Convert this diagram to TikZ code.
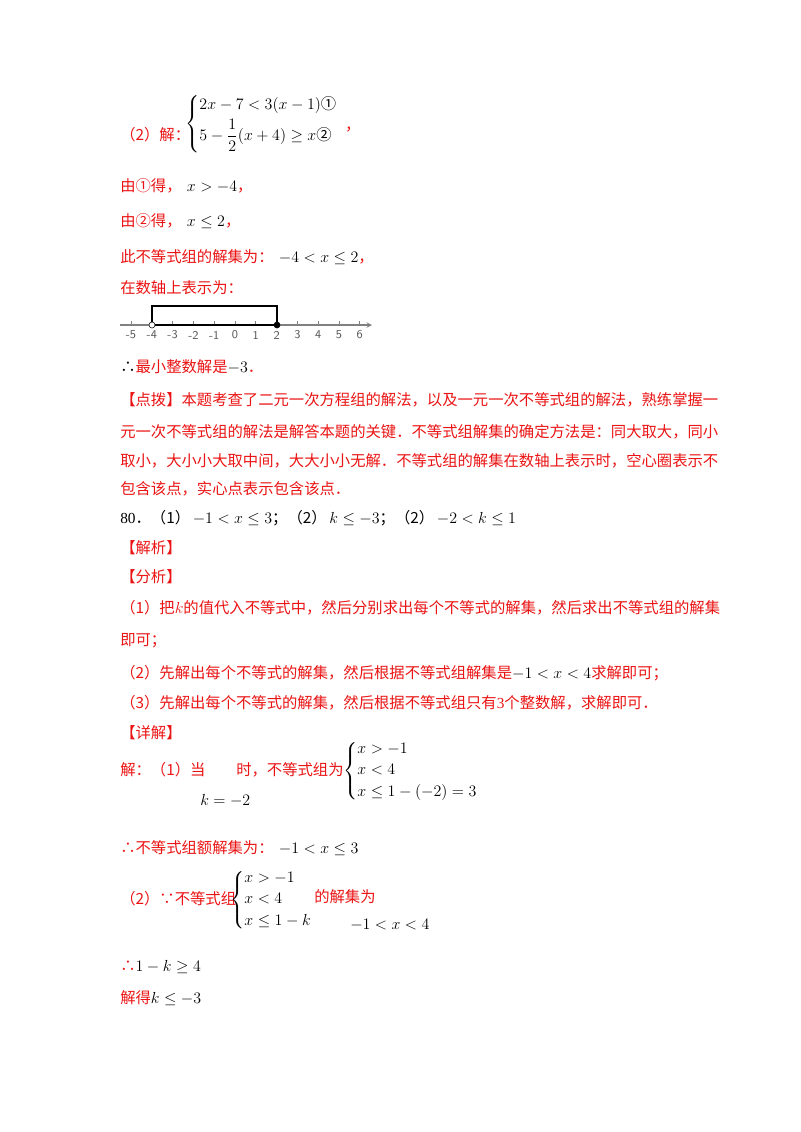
\documentclass[tikz,border=0pt]{standalone}
\usepackage{amsmath}
\usepackage{fontspec}
\setmainfont{Liberation Serif}
\newfontfamily\cjk{Noto Sans CJK SC}
\definecolor{myred}{RGB}{235,20,20}
\newcommand{\R}[1]{{\color{myred}\cjk #1}}
\begin{document}
\begin{tikzpicture}[x=0.75pt,y=-0.75pt,
  t/.style={anchor=west,inner sep=0pt,font=\fontsize{11.5}{14}\selectfont},
  tk/.style={draw=gray,line width=0.6pt}]
\fill[white] (0,0) rectangle (800,1132);
\useasboundingbox (0,0) rectangle (800,1132);
% (2) system
\node[t] (l1) at (120,135) {\R{（2）解：}};
\node[t] (s1) at (185,124) {$\left\{\begin{array}{@{}l@{}}2x-7<3(x-1)\text{\cjk ①}\\[3pt]5-\dfrac12(x+4)\ge x\text{\cjk ②}\end{array}\right.$};
\node[t] (c1) at ([xshift=5pt,yshift=-4pt]s1.east) {\R{，}};
\node[t] (l2) at (120,186) {\R{由①得，}\hspace{4pt}$x>-4$\R{，}};
\node[t] (l3) at (120,221) {\R{由②得，}\hspace{4pt}$x\le 2$\R{，}};
\node[t] (l4) at (120,257) {\R{此不等式组的解集为：}\hspace{4pt}$-4<x\le 2$\R{，}};
\node[t] (l5) at (120,288) {\R{在数轴上表示为：}};
% number line
\coordinate (a0) at (120,325);
\coordinate (a1) at (372,325);
\draw[gray,line width=0.8pt,-stealth] (a0) -- (a1);
\foreach \i [count=\n from 0] in {-5,...,6}{
  \coordinate (k\n) at ({131+20.8*(\i+5)},325);
  \draw[tk] (k\n) -- ++(0,-4);
  \node[font=\fontsize{9}{10}\selectfont\sffamily,gray!70!black] (lab\n) at ({131+20.8*(\i+5)},335) {\i};
}
\coordinate (p1) at (152,325);
\coordinate (p2) at (277,325);
\draw[line width=0.8pt] (p1) -- (152,306) -- (277,306) -- (p2);
\draw[line width=1pt] (p1) -- (p2);
\node[circle,draw,fill=white,inner sep=1.6pt] (oc) at (p1) {};
\node[circle,draw,fill=black,inner sep=1.6pt] (fc) at (p2) {};
\node[t] (l6) at (120,367) {{\cjk ∴}\R{最小整数解是}$-3$\R{．}};
\node[t] (l7) at (120,400) {\R{【点拨】本题考查了二元一次方程组的解法，以及一元一次不等式组的解法，熟练掌握一}};
\node[t] (l8) at (120,432) {\R{元一次不等式组的解法是解答本题的关键．不等式组解集的确定方法是：同大取大，同小}};
\node[t] (l9) at (120,461) {\R{取小，大小小大取中间，大大小小无解．不等式组的解集在数轴上表示时，空心圈表示不}};
\node[t] (l10) at (120,489) {\R{包含该点，实心点表示包含该点．}};
\node[t] (l11) at (120,518) {80\cjk ．（1）\hspace{2pt}$-1<x\le3$\cjk ；（2）\hspace{2pt}$k\le-3$\cjk ；（2）\hspace{2pt}$-2<k\le1$};
\node[t] (l12) at (120,548) {\R{【解析】}};
\node[t] (l13) at (120,577) {\R{【分析】}};
\node[t] (l14) at (120,608) {\R{（1）把}\color{myred}$k$\R{的值代入不等式中，然后分别求出每个不等式的解集，然后求出不等式组的解集}};
\node[t] (l15) at (120,641) {\R{即可；}};
\node[t] (l16) at (120,673) {\R{（2）先解出每个不等式的解集，然后根据不等式组解集是}$-1<x<4$\R{求解即可；}};
\node[t] (l17) at (120,703) {\R{（3）先解出每个不等式的解集，然后根据不等式组只有}{\color{myred}3}\R{个整数解，求解即可．}};
\node[t] (l18) at (120,733) {\R{【详解】}};
\node[t] (l19) at (120,770) {\R{解：（1）当}};
\node[t] (k2) at (200,801) {$k=-2$};
\node[t] (l20) at (236,770) {\R{时，不等式组为}};
\node[t] (s2) at (343,771) {$\left\{\begin{array}{@{}l@{}}x>-1\\[2pt]x<4\\[2pt]x\le1-(-2)=3\end{array}\right.$};
\node[t] (l21) at (120,848) {\R{∴不等式组额解集为：}\hspace{4pt}$-1<x\le3$};
\node[t] (l22) at (120,899) {\R{（2）∵不等式组}};
\node[t] (s3) at (230,900) {$\left\{\begin{array}{@{}l@{}}x>-1\\[2pt]x<4\\[2pt]x\le1-k\end{array}\right.$};
\node[t] (l23) at (314,897) {\R{的解集为}};
\node[t] (s4) at (350,925) {$-1<x<4$};
\node[t] (l24) at (120,967) {\R{∴}$1-k\ge4$};
\node[t] (l25) at (120,998) {\R{解得}$k\le-3$};
\end{tikzpicture}
\end{document}
